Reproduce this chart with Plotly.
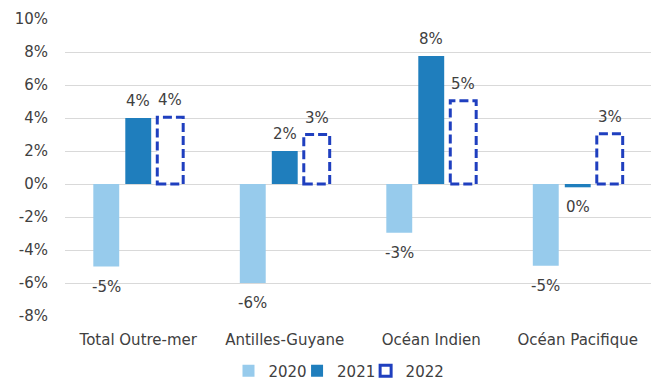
import plotly.graph_objects as go

# Regional change, 2020-2022
categories = ["Total Outre-mer", "Antilles-Guyane", "Océan Indien", "Océan Pacifique"]
years = ["2020", "2021", "2022"]
values_2020 = [-5.0, -6.0, -2.95, -4.95]
values_2021 = [4.0, 2.0, 7.76, -0.2]
values_2022 = [4.05, 3.0, 5.05, 3.05]
y_ticks = [-8, -6, -4, -2, 0, 2, 4, 6, 8, 10]

COL_2020 = "#97CBEC"
COL_2021 = "#1F7EBD"
COL_2022 = "#1F3FBF"
TEXT = "#404040"
FONT = "DejaVu Sans"
FS = 15

BARGAP = 0.345
GROUPGAP = 0.19
slot = (1 - BARGAP) / 3
bar_w = slot * (1 - GROUPGAP)


def slot_center(i, k):
    return i - (1 - BARGAP) / 2 + slot * (k + 0.5)


def label(v):
    return f"{round(v):.0f}%"


fig = go.Figure()
fig.add_trace(go.Bar(name=years[0], x=categories, y=values_2020, legend="legend",
                     marker=dict(color=COL_2020, line=dict(width=0))))
fig.add_trace(go.Bar(name=years[1], x=categories, y=values_2021, legend="legend2",
                     marker=dict(color=COL_2021, line=dict(width=0))))

# 2022: white bar keeps the third slot; dashed outline drawn as shapes
fig.add_trace(go.Bar(name=years[2], x=categories, y=values_2022, showlegend=False,
                     marker=dict(color="white", line=dict(width=0))))
fig.add_trace(go.Scatter(
    name=years[2], x=[None], y=[None], mode="markers", legend="legend3",
    marker=dict(symbol="square-open", size=11, color=COL_2022,
                line=dict(width=3, color=COL_2022)),
))

for i, v in enumerate(values_2022):
    c = slot_center(i, 2)
    fig.add_shape(
        type="rect", xref="x", yref="y",
        x0=c - bar_w / 2, x1=c + bar_w / 2, y0=0, y1=v,
        line=dict(color=COL_2022, width=3, dash="9px,4px"), layer="above",
    )

# value labels beyond the end of each bar
for k, vals in enumerate([values_2020, values_2021, values_2022]):
    for i, v in enumerate(vals):
        pos = v >= 0
        fig.add_annotation(
            x=slot_center(i, k), y=v, xref="x", yref="y", text=label(v),
            showarrow=False, yanchor="bottom" if pos else "top",
            yshift=6 if pos else -9,
            font=dict(family=FONT, size=FS, color=TEXT),
        )

# one legend per year, laid out side by side under the plot
legend_style = dict(orientation="h", y=-0.185, yanchor="middle", xanchor="left",
                    font=dict(size=FS, color=TEXT, family=FONT), itemwidth=30,
                    bgcolor="rgba(0,0,0,0)")
fig.update_layout(
    width=651, height=381,
    margin=dict(l=65, r=0, t=19, b=65, autoexpand=False),
    paper_bgcolor="white", plot_bgcolor="white",
    barmode="group", bargap=BARGAP, bargroupgap=GROUPGAP,
    font=dict(family=FONT, size=FS, color=TEXT),
    legend=dict(x=0.279, **legend_style),
    legend2=dict(x=0.396, **legend_style),
    legend3=dict(x=0.513, **legend_style),
    showlegend=True,
)
fig.update_xaxes(showgrid=False, zeroline=False, showline=False, ticks="",
                 tickfont=dict(size=FS, color=TEXT), ticklabelstandoff=13)
fig.update_yaxes(range=[-8, 10], tickvals=y_ticks, ticktext=[f"{t}%" for t in y_ticks],
                 showgrid=True, gridcolor="#D9D9D9", gridwidth=1,
                 zeroline=True, zerolinecolor="#D9D9D9", zerolinewidth=1,
                 showline=False, ticks="", ticklabelstandoff=16,
                 tickfont=dict(size=FS, color=TEXT))

fig.write_html("out.html")
